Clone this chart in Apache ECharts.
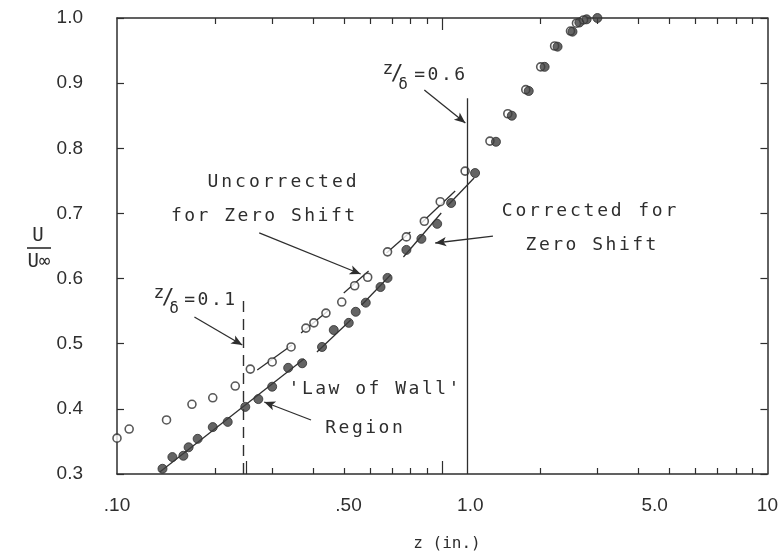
<!DOCTYPE html>
<html><head><meta charset="utf-8">
<script src="https://cdn.jsdelivr.net/npm/echarts@6/dist/echarts.min.js"></script>
<style>html,body{margin:0;padding:0;background:#fff}#c{width:781px;height:555px}</style>
</head><body><div id="c"></div>
<script>
// ---- data (z in inches, U/U_inf) ----
const openZ = [0.100,0.109,0.142,0.170,0.197,0.231,0.257,0.300,0.343,0.381,0.403,0.439,0.491,0.538,0.590,0.679,0.776,0.881,0.986,1.176,1.402,1.591,1.807,2.008,2.216,2.480,2.587,2.720];
const openU = [0.355,0.369,0.383,0.407,0.417,0.435,0.461,0.472,0.495,0.524,0.532,0.547,0.564,0.589,0.602,0.641,0.664,0.688,0.718,0.765,0.811,0.853,0.890,0.925,0.957,0.980,0.992,0.997];
const filledZ = [0.138,0.148,0.160,0.166,0.177,0.197,0.219,0.248,0.272,0.300,0.336,0.371,0.427,0.464,0.516,0.542,0.582,0.646,0.679,0.776,0.863,0.965,1.065,1.262,1.463,1.637,1.845,2.065,2.263,2.515,2.640,2.780,3.000];
const filledU = [0.308,0.326,0.328,0.341,0.354,0.372,0.380,0.403,0.415,0.434,0.463,0.470,0.495,0.521,0.532,0.549,0.563,0.587,0.601,0.644,0.661,0.684,0.716,0.762,0.810,0.850,0.888,0.925,0.956,0.979,0.993,0.998,1.000];
// short fitted line segments: [z1,u1,z2,u2]
const fitSegments = [
  [0.1354,0.303,0.3757,0.4765],
  [0.2699,0.4596,0.3453,0.498],
  [0.3680,0.5164,0.4450,0.5502],
  [0.4981,0.5778,0.5938,0.6116],
  [0.4119,0.4873,0.5232,0.5364],
  [0.5653,0.5594,0.6934,0.6055],
  [0.674,0.6392,0.798,0.6715],
  [0.8626,0.6853,1.096,0.7344],
  [0.7598,0.6331,0.993,0.7006],
  [1.043,0.7129,1.253,0.7544]
];
// reference lines z/delta = 0.1 (dashed) and 0.6 (solid): [z, uBottom, uTop]
const guideDashed = [0.245, 0.3, 0.570];
const guideSolid = [1.19, 0.3, 0.877];
// annotation arrows: [zFrom,uFrom,zTo,uTo]
const arrows = [
  [0.881,0.8895,1.178,0.8388],
  [0.173,0.541,0.2428,0.498],
  [0.2737,0.670,0.5613,0.607],
  [1.432,0.6653,0.952,0.6546],
  [0.395,0.3829,0.2836,0.4105]
];
// axis ticks / labels
const xLabelText = ['.10','.50','1.0','5.0','10'];
const xLabelAt = [0.1,0.515,1.22,4.5,10];
const xMinorTicks = [0.2,0.3,0.4,0.5,0.6,0.7,0.8,0.9,2,3,4,5,6,7,8,9];
const xMajorTicksBottom = [0.25,1];
const xMajorTicksTop = [1];
const yTickLabels = ['0.3','0.4','0.5','0.6','0.7','0.8','0.9','1.0'];

const INK = '#2e2e2e';
const LABEL_FONT = 'Liberation Sans';
const PLOT_FONT = 'DejaVu Sans Mono';

function spaced(s){ return s.split('').map(ch => '{a|' + ch + '}').join(''); }
function plotText(t, x, y, opt) {
  opt = opt || {};
  const size = opt.size || 18;
  return {
    type: 'text', x: x, y: y, silent: true,
    style: {
      text: spaced(t),
      rich: { a: { fontSize: size, fontFamily: PLOT_FONT, fill: INK, padding: [0, opt.pad == null ? 1.25 : opt.pad] } },
      align: opt.align || 'center', verticalAlign: 'middle'
    }
  };
}
function simpleText(t, x, y, size, font, align) {
  return { type: 'text', x: x, y: y, silent: true,
    style: { text: t, fontSize: size, fontFamily: font || PLOT_FONT, fill: INK, align: align || 'center', verticalAlign: 'middle' } };
}

function nearestLabel(v){
  let best = 0, bd = Infinity;
  xLabelAt.forEach((p,i)=>{ const d = Math.abs(Math.log10(p) - Math.log10(v)); if (d < bd){bd=d;best=i;} });
  return xLabelText[best];
}

const lineStyle = { color: INK, width: 1.5 };
const baseX = { type: 'log', logBase: 10, min: 0.1, max: 10, gridIndex: 0, splitLine: { show: false }, axisPointer: { show: false } };

const option = {
  animation: false,
  backgroundColor: '#ffffff',
  grid: { left: 117, right: 11, top: 18, bottom: 81, containLabel: false },
  xAxis: [
    Object.assign({}, baseX, {
      position: 'bottom',
      axisLine: { show: true, onZero: false, lineStyle },
      axisTick: { show: true, inside: true, length: 6, customValues: xMinorTicks, lineStyle: { color: INK, width: 1.2 } },
      axisLabel: { show: true, customValues: xLabelAt, formatter: v => nearestLabel(v), fontSize: 19, fontFamily: LABEL_FONT, color: INK, margin: 22 }
    }),
    Object.assign({}, baseX, {
      position: 'bottom',
      axisLine: { show: false },
      axisTick: { show: true, inside: true, length: 13, customValues: xMajorTicksBottom, lineStyle: { color: INK, width: 1.2 } },
      axisLabel: { show: false }
    }),
    Object.assign({}, baseX, {
      position: 'top',
      axisLine: { show: true, onZero: false, lineStyle },
      axisTick: { show: true, inside: true, length: 6, customValues: xMinorTicks, lineStyle: { color: INK, width: 1.2 } },
      axisLabel: { show: false }
    }),
    Object.assign({}, baseX, {
      position: 'top',
      axisLine: { show: false },
      axisTick: { show: true, inside: true, length: 12, customValues: xMajorTicksTop, lineStyle: { color: INK, width: 1.2 } },
      axisLabel: { show: false }
    })
  ],
  yAxis: [
    { type: 'value', min: 0.3, max: 1.0, interval: 0.1, position: 'left',
      axisLine: { show: true, onZero: false, lineStyle },
      axisTick: { show: true, inside: true, length: 7, lineStyle: { color: INK, width: 1.2 } },
      axisLabel: { formatter: v => yTickLabels[Math.round((v - 0.3) * 10)] || '', fontSize: 19, fontFamily: LABEL_FONT, color: INK, margin: 34 },
      splitLine: { show: false } },
    { type: 'value', min: 0.3, max: 1.0, interval: 0.1, position: 'right',
      axisLine: { show: true, onZero: false, lineStyle },
      axisTick: { show: true, inside: true, length: 7, lineStyle: { color: INK, width: 1.2 } },
      axisLabel: { show: false }, splitLine: { show: false } }
  ],
  series: [].concat(
    fitSegments.map(s => ({
      type: 'line', xAxisIndex: 0, yAxisIndex: 0, symbol: 'none', silent: true,
      lineStyle: { color: INK, width: 1.3 }, data: [[s[0], s[1]], [s[2], s[3]]], z: 3
    })),
    [{
      type: 'line', xAxisIndex: 0, yAxisIndex: 0, data: [], silent: true,
      markLine: {
        silent: true, animation: false, symbol: ['none', 'arrow'], symbolSize: [7, 11],
        label: { show: false },
        lineStyle: { color: INK, width: 1.3, type: 'solid' },
        data: [
          [{ coord: [guideDashed[0], guideDashed[1]], symbol: 'none', lineStyle: { type: [11, 7], width: 1.4, color: INK } },
           { coord: [guideDashed[0], guideDashed[2]], symbol: 'none' }],
          [{ coord: [guideSolid[0], guideSolid[1]], symbol: 'none', lineStyle: { type: 'solid', width: 1.3, color: INK } },
           { coord: [guideSolid[0], guideSolid[2]], symbol: 'none' }]
        ].concat(arrows.map(a => [{ coord: [a[0], a[1]] }, { coord: [a[2], a[3]] }]))
      }
    },
    {
      name: 'Uncorrected for Zero Shift', type: 'scatter', xAxisIndex: 0, yAxisIndex: 0,
      symbol: 'circle', symbolSize: 8, z: 4,
      itemStyle: { color: '#ffffff', borderColor: INK, borderWidth: 1.6 },
      data: openZ.map((z, i) => [z, openU[i]])
    },
    {
      name: 'Corrected for Zero Shift', type: 'scatter', xAxisIndex: 0, yAxisIndex: 0,
      symbol: 'circle', symbolSize: 9, z: 5,
      itemStyle: { color: '#3d3d3d', borderColor: INK, borderWidth: 1 },
      data: filledZ.map((z, i) => [z, filledU[i]])
    }]
  ),
  graphic: [
    // y-axis name U / U∞
    simpleText('U', 38, 236, 19, PLOT_FONT),
    { type: 'line', silent: true, shape: { x1: 27, y1: 248, x2: 51, y2: 248 }, style: { stroke: INK, lineWidth: 1.6 } },
    simpleText('U\u221E', 39, 262, 19, PLOT_FONT),
    // x-axis name
    plotText('z (in.)', 447, 544, { size: 16, pad: 0 }),
    // z/δ = 0.6
    simpleText('z', 388, 69, 18), simpleText('/', 397, 75, 21), simpleText('\u03B4', 403, 85, 16),
    plotText('=0.6', 413, 75, { align: 'left' }),
    // z/δ = 0.1
    simpleText('z', 159, 293, 18), simpleText('/', 168, 299, 21), simpleText('\u03B4', 174, 309, 16),
    plotText('=0.1', 183, 300, { align: 'left' }),
    plotText('Uncorrected', 282, 182, { pad: 1.5 }),
    plotText('for Zero Shift', 263, 216),
    plotText('Corrected for', 589, 211, { pad: 1.4 }),
    plotText('Zero Shift', 591, 245),
    plotText("'Law of Wall'", 374, 389),
    plotText('Region', 364, 428)
  ]
};
const chart = echarts.init(document.getElementById('c'), null, { renderer: 'canvas' });
chart.setOption(option);
</script></body></html>
